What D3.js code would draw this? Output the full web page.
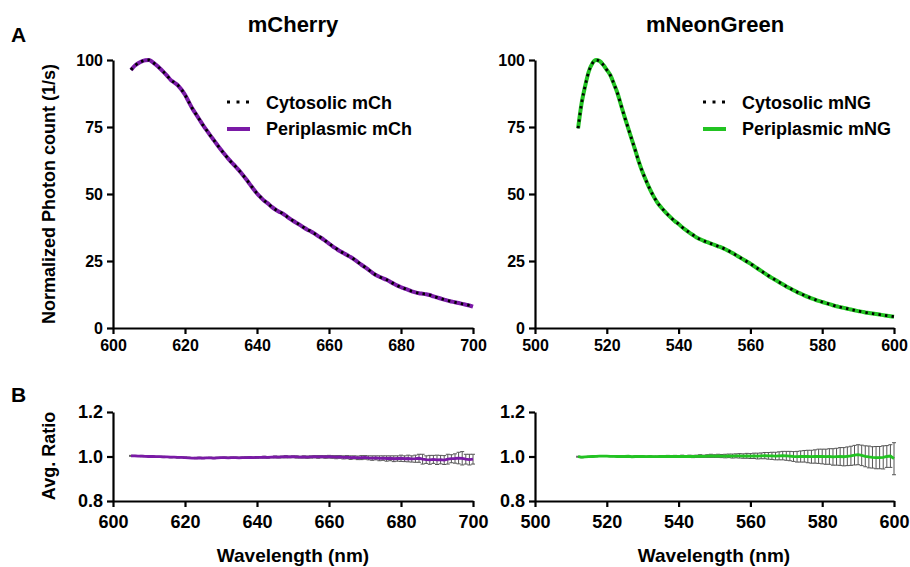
<!DOCTYPE html>
<html>
<head>
<meta charset="utf-8">
<script src="https://cdn.jsdelivr.net/npm/d3@7"></script>
<style>
  body { margin: 0; background: #fff; }
  svg text { font-family: 'Liberation Sans', Arial, sans-serif; font-weight: bold; fill: #000; }
</style>
</head>
<body>
<div id="chart"></div>
<script>
// Sampling grid (1 nm steps)
const mChStart = 605, mChEnd = 700
const mNGStart = 512, mNGEnd = 600
// Normalized emission spectra (cytosolic and periplasmic traces overlap in the figure)
const mChSpectrum = [
  96.3, 97.8, 98.8, 99.5, 99.9, 100, 99.2, 98.1, 96.9, 95.6,
  94.2, 92.6, 91.6, 90.6, 89.0, 87.0, 84.5, 82.0, 79.9, 77.8,
  75.7, 73.8, 71.9, 70.1, 68.3, 66.5, 64.8, 63.2, 61.7, 60.3,
  58.8, 57.2, 55.5, 53.7, 51.9, 50.2, 48.8, 47.5, 46.5, 45.3,
  44.3, 43.5, 42.8, 41.9, 40.9, 40.0, 39.2, 38.4, 37.5, 36.7,
  36.0, 35.2, 34.3, 33.5, 32.5, 31.5, 30.5, 29.6, 28.7, 28.0,
  27.2, 26.5, 25.6, 24.6, 23.6, 22.7, 21.7, 20.7, 19.8, 19.1,
  18.5, 18.0, 17.3, 16.5, 15.8, 15.2, 14.7, 14.2, 13.7, 13.3,
  13.0, 12.8, 12.6, 12.3, 11.8, 11.4, 11.0, 10.6, 10.2, 9.9,
  9.6, 9.3, 9.0, 8.7, 8.4, 8.0
]
const mNGSpectrum = [
  74.5, 84.0, 90.5, 95.8, 98.8, 100, 99.6, 98.2, 96.3, 94.3,
  91.0, 87.5, 83.0, 78.6, 74.4, 70.2, 66.0, 61.7, 58.0, 54.8,
  51.8, 49.2, 47.0, 45.2, 43.7, 42.3, 41.0, 39.8, 38.8, 37.6,
  36.6, 35.6, 34.7, 33.8, 33.1, 32.5, 32.0, 31.5, 31.0, 30.5,
  30.0, 29.4, 28.7, 28.0, 27.2, 26.4, 25.6, 24.8, 24.0, 23.1,
  22.2, 21.3, 20.4, 19.5, 18.7, 17.9, 17.1, 16.3, 15.5, 14.8,
  14.1, 13.4, 12.8, 12.2, 11.6, 11.1, 10.6, 10.1, 9.7, 9.3,
  8.9, 8.5, 8.1, 7.8, 7.5, 7.2, 6.9, 6.6, 6.3, 6.1,
  5.8, 5.6, 5.4, 5.2, 5.0, 4.8, 4.6, 4.4, 4.2
]
// Average ratio periplasmic / cytosolic and its spread
const mChRatio = [
  1.003, 1.003, 1.002, 1.002, 1.001, 1.000, 1.000, 0.999, 0.999, 0.998,
  0.998, 0.997, 0.997, 0.996, 0.996, 0.995, 0.994, 0.993, 0.993, 0.994,
  0.993, 0.994, 0.994, 0.993, 0.994, 0.995, 0.995, 0.994, 0.995, 0.995,
  0.994, 0.995, 0.995, 0.996, 0.995, 0.996, 0.996, 0.997, 0.996, 0.997,
  0.998, 0.997, 0.998, 0.999, 0.998, 0.999, 0.998, 0.997, 0.998, 0.997,
  0.998, 0.999, 0.998, 0.999, 0.998, 0.999, 0.998, 0.997, 0.998, 0.996,
  0.997, 0.995, 0.996, 0.994, 0.995, 0.996, 0.994, 0.993, 0.994, 0.992,
  0.993, 0.991, 0.992, 0.990, 0.991, 0.992, 0.990, 0.991, 0.989, 0.990,
  0.992, 0.988, 0.986, 0.985, 0.987, 0.985, 0.986, 0.984, 0.988, 0.990,
  0.991, 0.993, 0.992, 0.988, 0.986, 0.988
]
const mChRatioSD = [
  0.002, 0.002, 0.002, 0.003, 0.002, 0.002, 0.003, 0.002, 0.002, 0.003,
  0.002, 0.003, 0.002, 0.003, 0.002, 0.003, 0.003, 0.002, 0.003, 0.003,
  0.003, 0.002, 0.003, 0.003, 0.003, 0.002, 0.003, 0.003, 0.003, 0.003,
  0.003, 0.003, 0.004, 0.003, 0.003, 0.004, 0.003, 0.004, 0.004, 0.003,
  0.004, 0.004, 0.004, 0.005, 0.004, 0.004, 0.005, 0.004, 0.005, 0.005,
  0.005, 0.005, 0.006, 0.005, 0.006, 0.006, 0.006, 0.007, 0.006, 0.007,
  0.007, 0.008, 0.007, 0.008, 0.009, 0.008, 0.009, 0.010, 0.009, 0.011,
  0.010, 0.012, 0.011, 0.013, 0.012, 0.014, 0.013, 0.015, 0.014, 0.016,
  0.018, 0.022, 0.017, 0.020, 0.018, 0.021, 0.019, 0.020, 0.022, 0.018,
  0.021, 0.026, 0.030, 0.022, 0.024, 0.022
]
const mNGRatio = [
  0.999, 0.997, 0.998, 0.999, 1.000, 1.001, 1.002, 1.002, 1.002, 1.001,
  1.001, 1.000, 1.000, 1.000, 1.001, 0.999, 1.000, 1.001, 1.000, 0.999,
  1.000, 0.999, 0.999, 1.000, 1.000, 1.001, 1.000, 1.001, 1.000, 1.001,
  1.000, 1.001, 1.000, 1.001, 1.002, 1.001, 1.002, 1.003, 1.002, 1.003,
  1.002, 1.002, 1.003, 1.002, 1.003, 1.003, 1.002, 1.003, 1.002, 1.003,
  1.002, 1.003, 1.004, 1.003, 1.003, 1.002, 1.003, 1.004, 1.003, 1.002,
  1.000, 0.999, 1.000, 1.001, 1.000, 0.999, 1.000, 1.001, 1.000, 0.999,
  1.000, 0.998, 0.999, 1.000, 0.999, 1.001, 1.003, 1.006, 1.008, 1.005,
  1.001, 0.998, 0.996, 0.995, 0.995, 0.996, 1.000, 1.002, 0.990
]
const mNGRatioSD = [
  0.002, 0.003, 0.002, 0.002, 0.002, 0.002, 0.002, 0.002, 0.002, 0.002,
  0.002, 0.002, 0.003, 0.002, 0.003, 0.002, 0.003, 0.003, 0.003, 0.003,
  0.003, 0.003, 0.003, 0.004, 0.003, 0.004, 0.004, 0.004, 0.004, 0.005,
  0.004, 0.005, 0.005, 0.005, 0.006, 0.005, 0.006, 0.007, 0.006, 0.007,
  0.007, 0.008, 0.008, 0.009, 0.009, 0.010, 0.010, 0.011, 0.011, 0.012,
  0.013, 0.013, 0.014, 0.015, 0.016, 0.017, 0.018, 0.019, 0.020, 0.021,
  0.022, 0.024, 0.025, 0.026, 0.028, 0.029, 0.030, 0.032, 0.033, 0.034,
  0.035, 0.037, 0.038, 0.040, 0.041, 0.042, 0.043, 0.044, 0.045, 0.046,
  0.047, 0.049, 0.048, 0.050, 0.050, 0.052, 0.049, 0.051, 0.072
]
// Tick labels
const mChTicks = [600, 620, 640, 660, 680, 700]
const mNGTicks = [500, 520, 540, 560, 580, 600]
const spectrumTicks = [0, 25, 50, 75, 100]
const ratioTicks = [0.8, 1.0, 1.2]
const legendLabels = {
  mCh: ['Cytosolic mCh', 'Periplasmic mCh'],
  mNG: ['Cytosolic mNG', 'Periplasmic mNG']
}

;(({ width, height, purple, green }) => {
  const svg = d3.select('#chart')
    .append('svg')
    .attr('width', width)
    .attr('height', height)

  const cols = [ { left: 113, right: 473 }, { left: 535, right: 894 } ]
  const topRow = { top: 60, bottom: 328 }
  const botRow = { top: 412, bottom: 501 }

  const styleAxis = (g, fontSize) => {
    g.selectAll('path, line').attr('stroke', '#000').attr('stroke-width', 2.2)
    g.selectAll('text').style('font-size', fontSize + 'px')
  }

  // draw one pair of axes and return scales
  const axes = ({ col, row, xDomain, xTicks, yDomain, yTicks, yFormat, fontSize, pad }) => {
    const x = d3.scaleLinear().domain(xDomain).range([col.left, col.right])
    const y = d3.scaleLinear().domain(yDomain).range([row.bottom, row.top])
    svg.append('g')
      .attr('transform', `translate(0,${row.bottom})`)
      .call(d3.axisBottom(x).tickValues(xTicks).tickSize(6).tickSizeOuter(0).tickPadding(pad))
      .call(g => styleAxis(g, fontSize))
    svg.append('g')
      .attr('transform', `translate(${col.left},0)`)
      .call(d3.axisLeft(y).tickValues(yTicks).tickFormat(yFormat).tickSize(6).tickSizeOuter(0).tickPadding(4))
      .call(g => styleAxis(g, fontSize))
    return { x, y }
  }

  const spectrumPanel = (col, xDomain, xTicks, start, values, color, labels, legendX) => {
    const { x, y } = axes({ col, row: topRow, xDomain, xTicks, yDomain: [0, 100],
      yTicks: spectrumTicks, yFormat: d3.format('d'), fontSize: 16, pad: 6 })
    const line = d3.line()
      .x((d, i) => x(start + i))
      .y(d => y(d))
      .curve(d3.curveMonotoneX)
    svg.append('path').datum(values)
      .attr('d', line).attr('fill', 'none')
      .attr('stroke', color).attr('stroke-width', 4)
    svg.append('path').datum(values)
      .attr('d', line).attr('fill', 'none')
      .attr('stroke', '#000').attr('stroke-width', 2.8)
      .attr('stroke-dasharray', '2.4,4.2')
    // Legend
    const lg = svg.append('g')
    lg.append('line')
      .attr('x1', legendX).attr('x2', legendX + 22).attr('y1', 102).attr('y2', 102)
      .attr('stroke', '#000').attr('stroke-width', 3).attr('stroke-dasharray', '3,6.5')
    lg.append('line')
      .attr('x1', legendX).attr('x2', legendX + 23).attr('y1', 129).attr('y2', 129)
      .attr('stroke', color).attr('stroke-width', 4)
    lg.selectAll('text').data(labels).enter().append('text')
      .attr('x', legendX + 39)
      .attr('y', (d, i) => 109 + i * 26)
      .style('font-size', '18px')
      .text(d => d)
  }

  const ratioPanel = (col, xDomain, xTicks, start, values, sd, color) => {
    const { x, y } = axes({ col, row: botRow, xDomain, xTicks, yDomain: [0.8, 1.2],
      yTicks: ratioTicks, yFormat: d3.format('.1f'), fontSize: 18, pad: 8 })
    const bars = svg.append('g').attr('stroke', '#555').attr('stroke-width', 1)
    values.forEach((v, i) => {
      const cx = x(start + i)
      const lo = y(v - sd[i]), hi = y(v + sd[i])
      bars.append('line').attr('x1', cx).attr('x2', cx).attr('y1', lo).attr('y2', hi)
      bars.append('line').attr('x1', cx - 2).attr('x2', cx + 2).attr('y1', lo).attr('y2', lo)
      bars.append('line').attr('x1', cx - 2).attr('x2', cx + 2).attr('y1', hi).attr('y2', hi)
    })
    svg.append('path').datum(values)
      .attr('d', d3.line().x((d, i) => x(start + i)).y(d => y(d)))
      .attr('fill', 'none').attr('stroke', color).attr('stroke-width', 2.8)
  }

  spectrumPanel(cols[0], [600, 700], mChTicks, mChStart, mChSpectrum, purple, legendLabels.mCh, 227)
  spectrumPanel(cols[1], [500, 600], mNGTicks, mNGStart, mNGSpectrum, green, legendLabels.mNG, 703)
  ratioPanel(cols[0], [600, 700], mChTicks, mChStart, mChRatio, mChRatioSD, purple)
  ratioPanel(cols[1], [500, 600], mNGTicks, mNGStart, mNGRatio, mNGRatioSD, green)

  // Titles and labels
  const text = (str, x, y, size, opts = {}) => svg.append('text')
    .attr('x', x).attr('y', y)
    .attr('text-anchor', opts.anchor || 'middle')
    .attr('transform', opts.rotate ? `rotate(-90,${x},${y})` : null)
    .style('font-size', size + 'px')
    .text(str)
  text('mCherry', 293, 32, 22)
  text('mNeonGreen', 715, 32, 22)
  text('A', 11, 42, 21, { anchor: 'start' })
  text('B', 11, 402, 21, { anchor: 'start' })
  text('Normalized Photon count (1/s)', 55, 194, 18, { rotate: true })
  text('Avg. Ratio', 55, 456, 18, { rotate: true })
  text('Wavelength (nm)', 293, 562, 19)
  text('Wavelength (nm)', 714, 562, 19)
})({
  width: 910,
  height: 567,
  purple: '#7a1aa6',
  green: '#22c322'
})
</script>
</body>
</html>
